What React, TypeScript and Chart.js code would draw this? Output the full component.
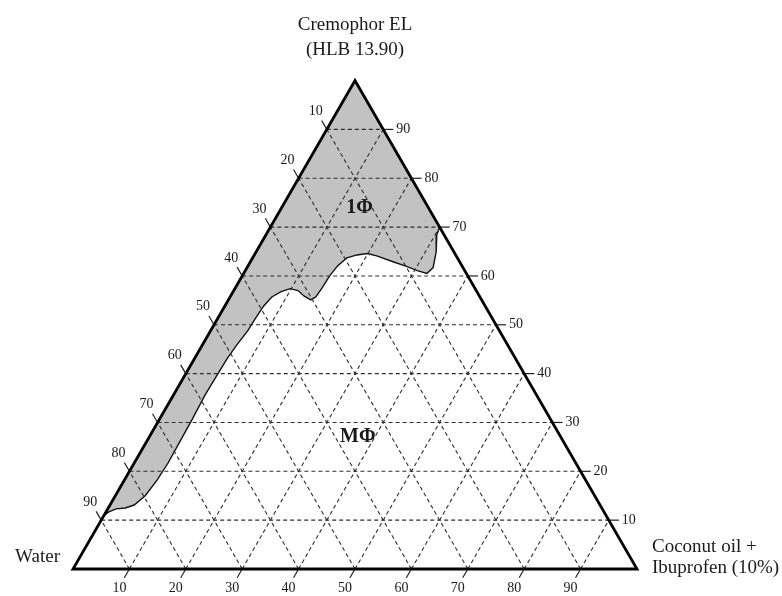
import React, { useEffect, useRef } from 'react';
import { Chart, registerables } from 'chart.js';

Chart.register(...registerables);

// Composition axes: oil (bottom edge, Water -> Coconut oil vertex),
// Cremophor (height, towards the top vertex); water is the remainder.
const GRID_LEVELS = [10, 20, 30, 40, 50, 60, 70, 80, 90];
const WATER_TICK_LABELS = ['10', '20', '30', '40', '50', '60', '70', '80', '90'];
const OIL_TICK_LABELS = ['10', '20', '30', '40', '50', '60', '70', '80', '90'];
const CREMOPHOR_TICK_LABELS = ['10', '20', '30', '40', '50', '60', '70', '80', '90'];

const VERTEX_TOP = ['Cremophor EL', '(HLB 13.90)'];
const VERTEX_LEFT = ['Water'];
const VERTEX_RIGHT = ['Coconut oil +', 'Ibuprofen (10%)'];

// Single-phase region boundary, from the Cremophor/oil edge round to the water edge
const ONE_PHASE_OIL = [
  30, 30.3, 31.9, 33.0, 32.5, 30.5, 28.3, 25.3, 21.8, 19.9, 18.2, 16.7, 15.9, 15.5,
  15.4, 15.2, 14.6, 13.0, 11.4, 9.8, 8.5, 7.4, 6.9, 6.7, 6.6, 6.1, 5.8, 5.7, 5.6,
  5.8, 5.9, 6.0, 5.8, 5.3, 4.3, 3.0, 1.5, 0.5, 0, 0,
];
const ONE_PHASE_CREMOPHOR = [
  70, 68.4, 65.0, 61.7, 60.5, 61.1, 61.9, 62.9, 64.1, 64.6, 64.3, 63.7, 62.1, 60.0,
  57.6, 55.7, 55.1, 55.9, 57.0, 57.4, 56.8, 55.7, 53.9, 51.4, 48.8, 45.9, 43.0, 39.8,
  35.7, 30.9, 26.4, 21.7, 18.2, 15.0, 13.1, 12.5, 12.3, 11.7, 10.9, 100,
];

const PHASE_LABELS = ['1\u03A6', 'M\u03A6'];
const PHASE_LABEL_OIL = [13.8, 37];
const PHASE_LABEL_CREMOPHOR = [74, 27];

const SQ = Math.sqrt(3) / 2;
const toXY = (oil: number, cre: number) => ({ x: oil + cre / 2, y: cre * SQ });

const SERIF = "'Liberation Serif', 'Times New Roman', serif";
const TICK_LEN = 1.8;

function buildDatasets() {
  const sets: any[] = [];
  const base = { pointRadius: 0, pointHoverRadius: 0, tension: 0, fill: false };

  const poly = ONE_PHASE_OIL.map((o, i) => toXY(o, ONE_PHASE_CREMOPHOR[i]));
  poly.push(poly[0]);
  sets.push({
    ...base,
    data: poly,
    fill: 'shape',
    backgroundColor: '#c2c2c2',
    borderColor: '#111',
    borderWidth: 1.4,
    order: 4,
  });

  const grid = { ...base, borderColor: '#2e2e2e', borderWidth: 1.1, borderDash: [4, 3], order: 3 };
  const tick = { ...base, borderColor: '#222', borderWidth: 1.2, order: 2 };
  GRID_LEVELS.forEach((v) => {
    // constant Cremophor
    const cl = toXY(0, v);
    const cr = toXY(100 - v, v);
    sets.push({ ...grid, data: [cl, cr] });
    sets.push({ ...tick, data: [cr, { x: cr.x + TICK_LEN, y: cr.y }] });
    // constant oil
    const ob = toXY(v, 0);
    const ot = toXY(v, 100 - v);
    sets.push({ ...grid, data: [ob, ot] });
    sets.push({ ...tick, data: [ob, { x: ob.x - TICK_LEN * 0.5, y: ob.y - TICK_LEN * SQ }] });
    // constant water
    const wb = toXY(100 - v, 0);
    const wl = toXY(0, 100 - v);
    sets.push({ ...grid, data: [wb, wl] });
    sets.push({ ...tick, data: [wl, { x: wl.x - TICK_LEN * 0.5, y: wl.y + TICK_LEN * SQ }] });
  });

  const w = toXY(0, 0);
  const o = toXY(100, 0);
  const c = toXY(0, 100);
  sets.push({
    ...base,
    data: [w, o, c, w, o],
    borderColor: '#000',
    borderWidth: 2.8,
    borderJoinStyle: 'miter',
    order: 1,
  });
  return sets;
}

const textPlugin = {
  id: 'ternaryText',
  afterDatasetsDraw(chart: any) {
    const { ctx } = chart;
    const xs = chart.scales.x;
    const ys = chart.scales.y;
    const px = (oil: number, cre: number) => {
      const p = toXY(oil, cre);
      return [xs.getPixelForValue(p.x), ys.getPixelForValue(p.y)];
    };
    ctx.save();
    ctx.fillStyle = '#1a1a1a';

    // tick labels
    ctx.font = `14px ${SERIF}`;
    ctx.textBaseline = 'middle';
    GRID_LEVELS.forEach((v, i) => {
      ctx.textAlign = 'center';
      const [lx, ly] = px(0, 100 - v);
      ctx.fillText(WATER_TICK_LABELS[i], lx - 11, ly - 18);
      const [bx, by] = px(v, 0);
      ctx.fillText(OIL_TICK_LABELS[i], bx - 10, by + 19);
      ctx.textAlign = 'left';
      const [rx, ry] = px(100 - v, v);
      ctx.fillText(CREMOPHOR_TICK_LABELS[i], rx + 13, ry);
    });

    // vertex names
    ctx.font = `19px ${SERIF}`;
    ctx.textBaseline = 'alphabetic';
    const [tx, ty] = px(0, 100);
    ctx.textAlign = 'center';
    VERTEX_TOP.forEach((t, i) => ctx.fillText(t, tx, ty - 51 + i * 25));
    const [wx, wy] = px(0, 0);
    ctx.textAlign = 'right';
    VERTEX_LEFT.forEach((t, i) => ctx.fillText(t, wx - 13, wy - 7 + i * 21));
    const [ox, oy] = px(100, 0);
    ctx.textAlign = 'left';
    VERTEX_RIGHT.forEach((t, i) => ctx.fillText(t, ox + 15, oy - 17 + i * 21));

    // phase labels
    ctx.font = `bold 20px ${SERIF}`;
    ctx.textAlign = 'center';
    ctx.textBaseline = 'middle';
    PHASE_LABELS.forEach((t, i) => {
      const [x, y] = px(PHASE_LABEL_OIL[i], PHASE_LABEL_CREMOPHOR[i]);
      ctx.fillText(t, x, y);
    });
    ctx.restore();
  },
};

export default function App() {
  const ref = useRef<HTMLCanvasElement | null>(null);
  useEffect(() => {
    if (!ref.current) return;
    const unit = 5.64;
    const chart = new Chart(ref.current, {
      type: 'line',
      data: { datasets: buildDatasets() },
      options: {
        animation: false,
        responsive: false,
        devicePixelRatio: 1,
        layout: { padding: 0 },
        events: [],
        plugins: { legend: { display: false }, tooltip: { enabled: false } },
        scales: {
          x: { type: 'linear', min: -73 / unit, max: (782 - 73) / unit, display: false },
          y: { type: 'linear', min: -(596 - 569) / unit, max: 569 / unit, display: false },
        },
      },
      plugins: [textPlugin],
    } as any);
    return () => chart.destroy();
  }, []);
  return (
    <div style={{ position: 'fixed', left: 0, top: 0, width: 782, height: 596, background: '#fff' }}>
      <canvas ref={ref} width={782} height={596} />
    </div>
  );
}
